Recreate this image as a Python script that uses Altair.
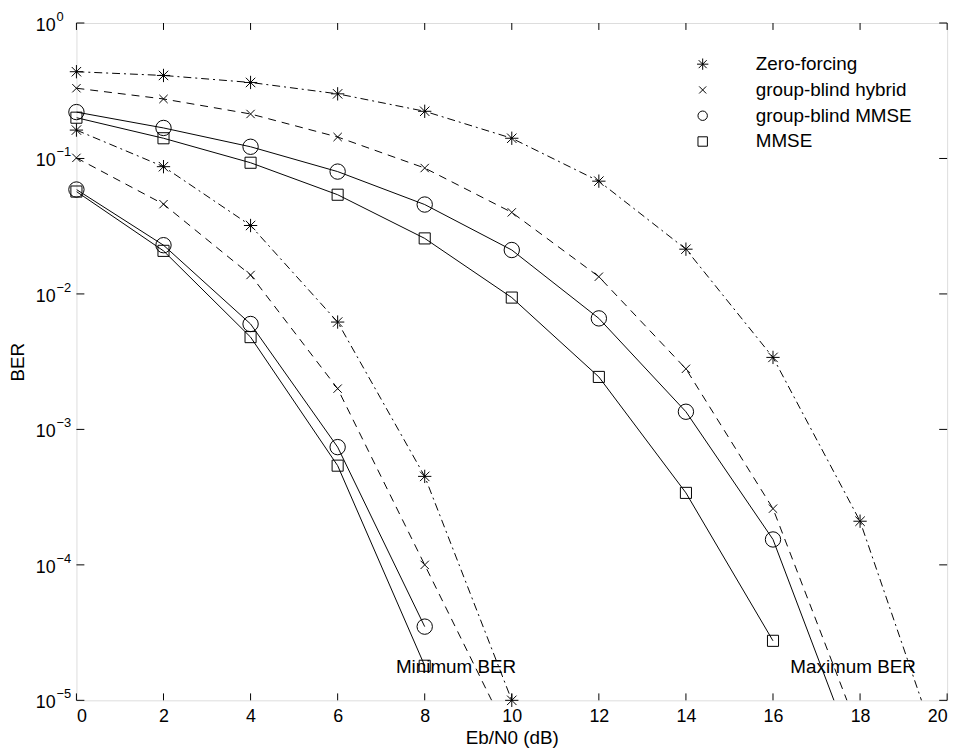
import altair as alt
import pandas as pd

methods = ["Zero-forcing", "group-blind hybrid", "group-blind MMSE", "MMSE"]

# Minimum-BER group
snr_min = [0, 2, 4, 6, 8, 10]
zf_min = [0.162, 0.087, 0.032, 0.0062, 4.5e-4, 1.0e-5]
hyb_min = [0.101, 0.046, 0.0138, 0.0020, 1.0e-4, 5.0e-6]
gbm_min = [0.059, 0.0229, 0.0060, 7.4e-4, 3.5e-5]
mmse_min = [0.057, 0.0208, 0.0048, 5.4e-4, 1.8e-5]

# Maximum-BER group
snr_max = [0, 2, 4, 6, 8, 10, 12, 14, 16, 18, 20]
zf_max = [0.437, 0.41, 0.364, 0.30, 0.223, 0.141, 0.068, 0.0214, 0.0034, 2.1e-4, 2.8e-6]
hyb_max = [0.33, 0.275, 0.213, 0.144, 0.085, 0.040, 0.0134, 0.0028, 2.6e-4, 5.6e-6]
gbm_max = [0.22, 0.168, 0.122, 0.080, 0.0457, 0.0211, 0.0066, 0.00135, 1.54e-4, 3.1e-6]
mmse_max = [0.20, 0.141, 0.093, 0.054, 0.0257, 0.0094, 0.00244, 3.4e-4, 2.75e-5]

x_ticks = [0, 2, 4, 6, 8, 10, 12, 14, 16, 18, 20]
y_ticks = [1, 0.1, 0.01, 0.001, 1e-4, 1e-5]
y_exps = ["0", "\u22121", "\u22122", "\u22123", "\u22124", "\u22125"]

ann_text = ["Minimum BER", "Maximum BER"]
ann_x = [8.72, 17.84]
ann_y = [1.75e-5, 1.75e-5]

rows = []
for name, ys in zip(methods, [zf_min, hyb_min, gbm_min, mmse_min]):
    for x, y in zip(snr_min, ys):
        rows.append({"method": name, "curve": name + " min", "snr": x, "ber": y})
for name, ys in zip(methods, [zf_max, hyb_max, gbm_max, mmse_max]):
    for x, y in zip(snr_max, ys):
        rows.append({"method": name, "curve": name + " max", "snr": x, "ber": y})
df = pd.DataFrame(rows)

W, H = 878, 683
FONT = "Liberation Sans"

xs = alt.Scale(domain=[0, 20], nice=False, zero=False)
ys = alt.Scale(type="log", domain=[1e-5, 1], nice=False)

asterisk = "M-1.2,0L1.2,0M0,-1.2L0,1.2M-0.85,-0.85L0.85,0.85M-0.85,0.85L0.85,-0.85"
xcross = "M-0.75,-0.75L0.75,0.75M-0.75,0.75L0.75,-0.75"

base = alt.Chart(df)

x_enc = alt.X("snr:Q", scale=xs,
              axis=alt.Axis(title="Eb/N0 (dB)", values=x_ticks, ticks=False, domain=False, grid=False,
                            labelFontSize=18, labelFont=FONT, labelPadding=7, labelColor="black",
                            titleFontSize=19, titleFont=FONT, titleFontWeight="normal", titlePadding=4,
                            titleColor="black"))
y_enc = alt.Y("ber:Q", scale=ys,
              axis=alt.Axis(title="BER", labels=False, ticks=False, domain=False, grid=False,
                            titleFontSize=19, titleFont=FONT, titleFontWeight="normal", titleColor="black",
                            titleX=-59, titleY=H / 2, titleAngle=270, titleAlign="center",
                            titleBaseline="middle"))

line_zf = base.transform_filter(alt.datum.method == "Zero-forcing").mark_line(
    clip=True, strokeWidth=1, color="black", strokeDash=[8, 4, 2, 4]).encode(x=x_enc, y=y_enc, detail="curve:N")
line_hyb = base.transform_filter(alt.datum.method == "group-blind hybrid").mark_line(
    clip=True, strokeWidth=1, color="black", strokeDash=[8, 6]).encode(x=x_enc, y=y_enc, detail="curve:N")
line_solid = base.transform_filter(
    "datum.method == 'group-blind MMSE' || datum.method == 'MMSE'").mark_line(
    clip=True, strokeWidth=1, color="black").encode(x=x_enc, y=y_enc, detail="curve:N")

points = base.transform_filter("datum.ber >= 0.99e-5").mark_point(
    filled=False, strokeWidth=1, color="black", opacity=1
).encode(
    x=alt.X("snr:Q", scale=xs),
    y=alt.Y("ber:Q", scale=ys),
    shape=alt.Shape("method:N", sort=methods,
                    scale=alt.Scale(domain=methods, range=[asterisk, xcross, "circle", "square"]),
                    legend=alt.Legend(title=None, orient="none", legendX=622, legendY=32,
                                      labelFontSize=19, labelFont=FONT, labelOffset=44, labelColor="black",
                                      symbolSize=90, symbolStrokeWidth=1, symbolStrokeColor="black",
                                      symbolFillColor="transparent", rowPadding=6, padding=0)),
    size=alt.condition("datum.method == 'group-blind MMSE'", alt.value(240), alt.value(125)),
)

tick_x_df = pd.DataFrame({"t": x_ticks})
tick_y_df = pd.DataFrame({"t": y_ticks, "e": y_exps})

tb = alt.Chart(tick_x_df).mark_rule(color="black", strokeWidth=1).encode(
    x=alt.X("t:Q", scale=xs), y=alt.value(H), y2=alt.value(H - 7))
tt = alt.Chart(tick_x_df).mark_rule(color="black", strokeWidth=1).encode(
    x=alt.X("t:Q", scale=xs), y=alt.value(0), y2=alt.value(7))
tl = alt.Chart(tick_y_df).mark_rule(color="black", strokeWidth=1).encode(
    y=alt.Y("t:Q", scale=ys), x=alt.value(0), x2=alt.value(8))
tr = alt.Chart(tick_y_df).mark_rule(color="black", strokeWidth=1).encode(
    y=alt.Y("t:Q", scale=ys), x=alt.value(W), x2=alt.value(W - 8))

lab10 = alt.Chart(tick_y_df).mark_text(align="right", baseline="middle", fontSize=18, font=FONT,
                                       dy=3, color="black").encode(
    y=alt.Y("t:Q", scale=ys), x=alt.value(-21), text=alt.value("10"))
labexp = alt.Chart(tick_y_df).mark_text(align="left", baseline="middle", fontSize=13, font=FONT,
                                        dy=-6, color="black").encode(
    y=alt.Y("t:Q", scale=ys), x=alt.value(-20), text="e:N")

ann_df = pd.DataFrame({"text": ann_text, "x": ann_x, "y": ann_y})
ann = alt.Chart(ann_df).mark_text(fontSize=19, font=FONT, color="black", baseline="middle").encode(
    x=alt.X("x:Q", scale=xs), y=alt.Y("y:Q", scale=ys), text="text:N")

chart = alt.layer(line_zf, line_hyb, line_solid, points, tb, tt, tl, tr, lab10, labexp, ann).properties(
    width=W, height=H,
    padding={"left": 69, "top": 12, "right": 17, "bottom": 53},
    autosize=alt.AutoSizeParams(type="none"),
).configure_view(stroke="black", strokeWidth=1).configure(background="white")

chart.save("out.html", embed_options={"renderer": "svg", "actions": False})
